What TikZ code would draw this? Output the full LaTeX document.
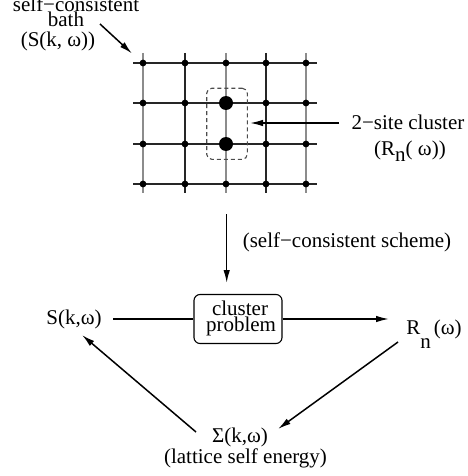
\documentclass[tikz,border=0pt]{standalone}
\usepackage{fontspec}
\setmainfont{Liberation Serif}
\usetikzlibrary{arrows.meta}
\tikzset{
  lbl/.style={inner sep=0pt, anchor=base, font=\fontsize{21}{18}\selectfont},
  conn/.style={line width=1.5pt},
  arr/.style={line width=1.5pt, -{Latex[length=13pt,width=6.5pt]}},
  hline/.style={line width=1.5pt, black!85},
  vgray/.style={line width=1.7pt, black!45},
  vblack/.style={line width=1.5pt, black!85},
  site/.style={circle, fill=black, inner sep=0pt, minimum size=6.8pt},
  bigsite/.style={circle, fill=black, inner sep=0pt, minimum size=14pt},
}
\begin{document}
\begin{tikzpicture}[x=1pt,y=-1pt]
\useasboundingbox (0,0) rectangle (467,476);
% grid
\foreach \yy in {63,103,144,184} \draw[hline] (133,\yy) -- (317,\yy);
\foreach \xx in {143,226,306} \draw[vgray] (\xx,53) -- (\xx,193);
\foreach \xx in {185,266} \draw[vblack] (\xx,53) -- (\xx,193);
\foreach \xx in {143,185,226,266,306}
  \foreach \yy in {63,103,144,184} \node[site] at (\xx,\yy) {};
\node[bigsite] (siteA) at (226,103) {};
\node[bigsite] (siteB) at (226,144) {};
\node[draw=black!70, dashed, dash pattern=on 4pt off 3pt, line width=1.1pt, rounded corners=5pt,
  minimum width=40.6pt, minimum height=71pt, inner sep=0pt] (clbox) at (227,123.8) {};
% top-left label
\node[lbl] (sc1) at (76,11.7) {self−consistent};
\node[lbl] (sc2) at (66,26.5) {bath};
\node[lbl] (sc3) at (58,46.5) {(S(k, ω))};
\coordinate (bathtail) at (100,24);
\coordinate (gridcorner) at (132,53.5);
\draw[arr] (bathtail) -- (gridcorner);
% cluster label
\node[lbl] (cl1) at (408,129) {2−site cluster};
\node[lbl] (cl2) at (410,155) {(R\raisebox{-6.5pt}{n}( ω))};
\coordinate (cltail) at (339,123);
\coordinate (clhead) at (250,123);
\draw[arr] (cltail) -- (clhead);
% vertical arrow
\coordinate (vtop) at (226.7,214);
\coordinate (vbot) at (226.7,283);
\draw[arr] (vtop) -- (vbot);
\node[lbl] (scheme) at (347,247) {(self−consistent scheme)};
% cluster problem box
\node[draw, line width=1.1pt, rounded corners=6pt, minimum width=88pt, minimum height=49pt, inner sep=0pt]
  (cp) at (238,319) {};
\node[lbl] (cp1) at (240,315.7) {cluster};
\node[lbl] (cp2) at (241,331.7) {problem};
% S node
\node[lbl] (S) at (74,324.3) {S(k,ω)};
\node[lbl] (R) at (434,334) {R\raisebox{-14pt}{n}\hspace{3pt}(ω)};
\coordinate (Send) at (113,319);
\draw[conn] (cp.west) -- (Send);
\coordinate (Rhead) at (389,319);
\draw[arr] (cp.east) -- (Rhead);
% sigma
\node[lbl] (sig) at (240,442) {Σ(k,ω)};
\node[lbl] (lat) at (245.5,463) {(lattice self energy)};
\coordinate (sigtail) at (196,432);
\coordinate (Shead) at (82,335);
\draw[arr] (sigtail) -- (Shead);
\coordinate (Rtail) at (398,342);
\coordinate (sighead) at (278,429);
\draw[arr] (Rtail) -- (sighead);
\end{tikzpicture}
\end{document}
